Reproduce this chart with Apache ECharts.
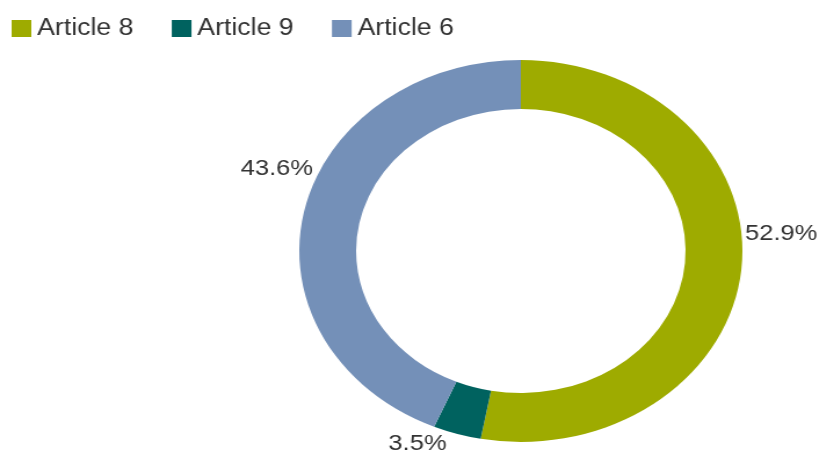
<!DOCTYPE html>
<html>
<head>
<meta charset="utf-8">
<script src="https://cdn.jsdelivr.net/npm/echarts@6/dist/echarts.min.js"></script>
<style>
html, body { margin: 0; padding: 0; background: #fff; overflow: hidden; }
#wrap { width: 819px; height: 466px; overflow: hidden; }
/* the source picture is stretched sideways, so the chart is drawn narrower and widened */
#chart { width: 706px; height: 466px; transform: scaleX(1.16); transform-origin: 0 0; }
</style>
</head>
<body>
<div id="wrap"><div id="chart"></div></div>
<script>
var categories = ['Article 8', 'Article 9', 'Article 6'];
var shares = [52.9, 3.5, 43.6];
var colors = ['#9eab00', '#00625f', '#7490b8'];
// small nudges of the outside labels, [dx, dy] in chart pixels
var labelShift = [[-2, -34], [-4, 10], [13, -44]];

var myChart = echarts.init(document.getElementById('chart'), null, { renderer: 'canvas' });

var data = categories.map(function (name, i) {
    return { name: name, value: shares[i], itemStyle: { color: colors[i] } };
});

var option = {
    animation: false,
    legend: {
        data: categories,
        left: 5,
        top: 12,
        itemWidth: 17,
        itemHeight: 17,
        itemGap: 33,
        icon: 'rect',
        textStyle: {
            fontFamily: 'Liberation Sans, Arial, sans-serif',
            fontSize: 23,
            color: '#333'
        }
    },
    series: [{
        type: 'pie',
        center: [449, 251],
        radius: [142, 191],
        startAngle: 90,
        clockwise: true,
        avoidLabelOverlap: false,
        data: data,
        label: {
            show: true,
            position: 'outside',
            formatter: function (p) { return p.value.toFixed(1) + '%'; },
            fontFamily: 'Liberation Sans Narrow, Arial Narrow, Liberation Sans, sans-serif',
            fontSize: 22,
            color: '#333'
        },
        labelLine: { show: false, length: 0, length2: 0 },
        labelLayout: function (p) {
            var s = labelShift[p.dataIndex];
            return { dx: s[0], dy: s[1] };
        },
        emphasis: { disabled: true }
    }]
};

myChart.setOption(option);
</script>
</body>
</html>
